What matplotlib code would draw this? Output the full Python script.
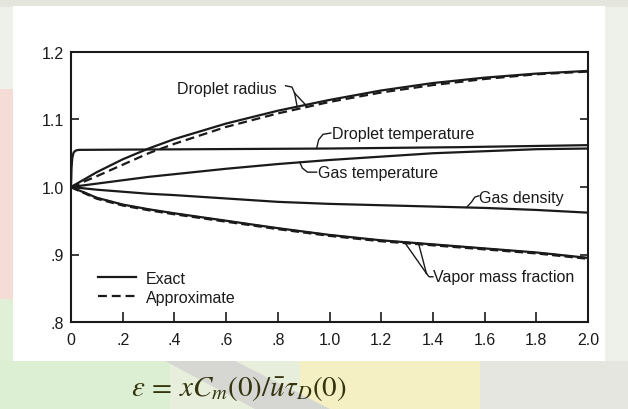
import numpy as np
import matplotlib
matplotlib.use("Agg")
import matplotlib.pyplot as plt
from matplotlib import font_manager as fm
from matplotlib.patches import Rectangle, Polygon

# ---------------- data ----------------
x_pts = [0.0, 0.1, 0.2, 0.3, 0.4, 0.6, 0.8, 1.0, 1.2, 1.4, 1.6, 1.8, 2.0]
radius_exact = [1.000, 1.022, 1.041, 1.057, 1.071, 1.094, 1.113, 1.129, 1.143, 1.154, 1.162, 1.168, 1.172]
radius_approx = [1.000, 1.016, 1.033, 1.050, 1.064, 1.089, 1.109, 1.126, 1.140, 1.151, 1.160, 1.167, 1.171]
vapor_exact = [1.000, 0.984, 0.974, 0.967, 0.961, 0.950, 0.939, 0.929, 0.921, 0.915, 0.909, 0.903, 0.895]
vapor_approx = [1.000, 0.983, 0.973, 0.966, 0.960, 0.949, 0.938, 0.928, 0.920, 0.914, 0.908, 0.902, 0.894]
gas_temp = [1.000, 1.005, 1.010, 1.015, 1.019, 1.027, 1.034, 1.040, 1.045, 1.050, 1.053, 1.056, 1.057]
gas_density = [1.000, 0.996, 0.993, 0.990, 0.988, 0.983, 0.978, 0.975, 0.973, 0.971, 0.969, 0.966, 0.962]

x_dt = [0.0, 0.002, 0.005, 0.010, 0.018, 0.03, 0.5, 1.0, 1.5, 2.0]
drop_temp = [1.000, 1.028, 1.043, 1.051, 1.054, 1.055, 1.056, 1.057, 1.059, 1.062]

y_ticks = [0.8, 0.9, 1.0, 1.1, 1.2]
y_ticklabels = [".8", ".9", "1.0", "1.1", "1.2"]
x_ticks = [0, 0.2, 0.4, 0.6, 0.8, 1.0, 1.2, 1.4, 1.6, 1.8, 2.0]
x_ticklabels = ["0", ".2", ".4", ".6", ".8", "1.0", "1.2", "1.4", "1.6", "1.8", "2.0"]

xlabel_formula = r"$\varepsilon\,=\,xC_m(0)/\bar{u}\tau_D(0)$"

# ---------------- font ----------------
def pick_font(cands):
    for cand in cands:
        try:
            fm.findfont(fm.FontProperties(family=cand), fallback_to_default=False)
            return cand
        except Exception:
            pass
    return "DejaVu Sans"

fam = pick_font(["Liberation Sans Narrow", "Liberation Sans", "DejaVu Sans"])
plt.rcParams["font.family"] = [fam, "DejaVu Sans"]
plt.rcParams["mathtext.fontset"] = "stix"

W, H = 628, 410
fig = plt.figure(figsize=(W / 100, H / 100), dpi=100)
fig.patch.set_facecolor("#eef0ec")

def px_rect(x0, y0, x1, y1, color, alpha=1.0, z=-10):
    r = Rectangle((x0 / W, 1 - y1 / H), (x1 - x0) / W, (y1 - y0) / H,
                  transform=fig.transFigure, facecolor=color, edgecolor="none",
                  alpha=alpha, zorder=z)
    fig.patches.append(r)

# soft background colours around the white panel
px_rect(0, 0, W, H, "#eef0ea")
px_rect(0, 0, W, 8, "#e4e6de")
px_rect(0, 90, 14, 300, "#f6dcd6")
px_rect(0, 300, 14, 410, "#dff0d6")
px_rect(0, 362, 628, 410, "#e7eedc")
px_rect(0, 362, 170, 410, "#dcefd2")
px_rect(300, 362, 480, 410, "#f4f0c4")
px_rect(480, 362, 628, 410, "#e6e6e0")
poly = Polygon([(165 / W, 1 - 362 / H), (235 / W, 1 - 362 / H), (330 / W, 1 - 410 / H), (255 / W, 1 - 410 / H)],
               closed=True, transform=fig.transFigure, facecolor="#d6d7d3", edgecolor="none", zorder=-9)
fig.patches.append(poly)
px_rect(13, 7, 605, 362, "white", z=-5)

# formula label below the panel
fig.text(239 / W, 1 - 389 / H, xlabel_formula, ha="center", va="center",
         fontsize=21, color="#34340f")

# ---------------- axes ----------------
L, T, R, B = 71, 53, 588, 323
ax = fig.add_axes([L / W, 1 - B / H, (R - L) / W, (B - T) / H])
ax.set_facecolor("none")
ax.set_xlim(0, 2.0)
ax.set_ylim(0.8, 1.2)

lw = 1.6
c = "#1a1a1a"
l_exact, = ax.plot(x_pts, radius_exact, color=c, lw=lw, label="Exact")
l_approx, = ax.plot(x_pts, radius_approx, color=c, lw=lw, ls=(0, (4, 2.2)), label="Approximate")
ax.plot(x_pts, vapor_exact, color=c, lw=lw)
ax.plot(x_pts, vapor_approx, color=c, lw=lw + 0.4, ls=(0, (3, 1.5)))
ax.plot(x_pts, gas_temp, color=c, lw=lw)
ax.plot(x_pts, gas_density, color=c, lw=lw)
ax.plot(x_dt, drop_temp, color=c, lw=lw)

for s in ax.spines.values():
    s.set_linewidth(1.5)
    s.set_color(c)

ax.set_xticks(x_ticks)
ax.set_xticklabels(x_ticklabels)
ax.set_yticks(y_ticks)
ax.set_yticklabels(y_ticklabels)
ax.tick_params(axis="x", direction="in", length=7, width=1.2, pad=7, labelsize=11.5, colors=c)
ax.tick_params(axis="y", direction="in", length=6, width=1.2, pad=5, labelsize=11.5, colors=c,
               right=True)

# ---------------- annotations with leader lines ----------------
fs = 11.5
kw = dict(color=c, lw=1.0)

# Droplet radius
ax.text(0.41, 1.146, "Droplet radius", fontsize=fs, va="center", ha="left", color=c)
xr1, xr2 = 0.875, 0.915
ax.plot([0.83, 0.855, 0.865], [1.150, 1.148, 1.139], **kw)
ax.plot([0.865, xr1], [1.139, np.interp(xr1, x_pts, radius_exact)], **kw)
ax.plot([0.865, xr2], [1.139, np.interp(xr2, x_pts, radius_approx)], **kw)

# Droplet temperature
ax.text(1.01, 1.079, "Droplet temperature", fontsize=fs, va="center", ha="left", color=c)
ax.plot([1.005, 0.975, 0.958, 0.950], [1.080, 1.078, 1.070, np.interp(0.95, x_dt, drop_temp)], **kw)

# Gas temperature
ax.text(0.955, 1.022, "Gas temperature", fontsize=fs, va="center", ha="left", color=c)
ax.plot([0.885, 0.895, 0.915, 0.950], [np.interp(0.885, x_pts, gas_temp), 1.028, 1.022, 1.022], **kw)

# Gas density
ax.text(1.578, 0.985, "Gas density", fontsize=fs, va="center", ha="left", color=c)
ax.plot([1.530, 1.550, 1.562, 1.578], [np.interp(1.53, x_pts, gas_density), 0.978, 0.985, 0.987], **kw)

# Vapor mass fraction
ax.text(1.40, 0.868, "Vapor mass fraction", fontsize=fs, va="center", ha="left", color=c)
xv1, xv2 = 1.29, 1.345
ax.plot([1.40, 1.385, 1.375], [0.867, 0.867, 0.872], **kw)
ax.plot([1.375, xv1], [0.872, np.interp(xv1, x_pts, vapor_exact)], **kw)
ax.plot([1.375, xv2], [0.872, np.interp(xv2, x_pts, vapor_approx)], **kw)

# legend
leg = ax.legend(handles=[l_exact, l_approx], loc="upper left", bbox_to_anchor=(0.04, 0.213),
                frameon=False, fontsize=fs, handlelength=2.4, handletextpad=0.6,
                labelspacing=0.25, borderaxespad=0)
for t in leg.get_texts():
    t.set_color(c)

fig.savefig("out.png", dpi=100)
